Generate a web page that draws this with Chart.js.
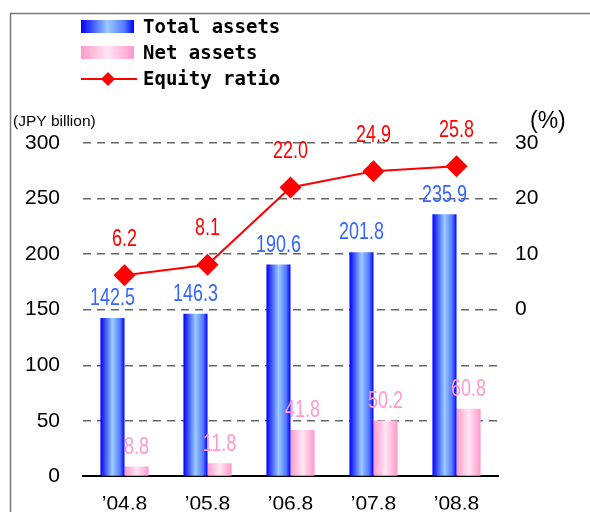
<!DOCTYPE html>
<html>
<head>
<meta charset="utf-8">
<script src="https://cdn.jsdelivr.net/npm/chart.js@4.4.1/dist/chart.umd.min.js"></script>
<style>
  html, body { margin: 0; padding: 0; background: #fff; }
  #wrap { width: 590px; height: 512px; }
</style>
</head>
<body>
<div id="wrap"><canvas id="chart" width="590" height="512"></canvas></div>
<script>
// ─── Data ──────────────────────────────────────────────────────────────────────
const periods     = ["’04.8", "’05.8", "’06.8", "’07.8", "’08.8"];
const totalAssets = [142.5, 146.3, 190.6, 201.8, 235.9];
const netAssets   = [8.8, 11.8, 41.8, 50.2, 60.8];
const equityRatio = [6.2, 8.1, 22.0, 24.9, 25.8];
const leftTicks   = [0, 50, 100, 150, 200, 250, 300];
const rightTicks  = [0, 10, 20, 30];

// ─── Styles ────────────────────────────────────────────────────────────────────
const TICK_FONT = '"Liberation Sans", Arial, sans-serif';
const blueStops = [[0, "#0000ff"], [0.5, "#99ccff"], [0.82, "#5577ff"], [1, "#0000ff"]];
const pinkStops = [[0, "#ff99cc"], [0.5, "#ffe6f2"], [1, "#ff99cc"]];

function hGradient(ctx, left, right, stops) {
  const g = ctx.createLinearGradient(left, 0, right, 0);
  stops.forEach(([o, c]) => g.addColorStop(o, c));
  return g;
}

// narrow text: squeeze horizontally around the anchor point
function narrowText(ctx, text, x, y, squeeze) {
  ctx.save();
  ctx.translate(x, y);
  ctx.scale(squeeze, 1);
  ctx.fillText(text, 0, 0);
  ctx.restore();
}

// paint each bar with its own left-to-right gradient
const barShade = {
  id: "barShade",
  beforeDatasetsDraw(chart) {
    const ctx = chart.ctx;
    chart.data.datasets.forEach((ds, i) => {
      if (!ds.stops) return;
      chart.getDatasetMeta(i).data.forEach(el => {
        const l = el.x - el.width / 2, r = el.x + el.width / 2;
        el.options = Object.assign({}, el.options, { backgroundColor: hGradient(ctx, l, r, ds.stops) });
      });
    });
  }
};

const valueLabels = {
  id: "valueLabels",
  afterDatasetsDraw(chart) {
    const ctx = chart.ctx;
    ctx.save();
    ctx.textAlign = "center";
    ctx.textBaseline = "middle";
    ctx.font = "23px " + TICK_FONT;
    chart.data.datasets.forEach((ds, i) => {
      const lift = ds.type === "line" ? 36 : 19;
      ctx.fillStyle = ds.labelColor;
      chart.getDatasetMeta(i).data.forEach((el, j) => {
        narrowText(ctx, ds.data[j].toFixed(1), el.x, el.y - lift, 0.78);
      });
    });
    ctx.restore();
  }
};

const frameAndLegend = {
  id: "frameAndLegend",
  beforeDraw(chart) {
    const ctx = chart.ctx;
    ctx.save();
    ctx.strokeStyle = "#7a7a7a";
    ctx.lineWidth = 1.5;
    ctx.strokeRect(10.5, 13.5, 700, 700);
    ctx.restore();
  },
  afterDraw(chart) {
    const ctx = chart.ctx;
    ctx.save();
    const rows = [27, 53, 79];
    chart.data.datasets.forEach((ds, i) => {
      const y = rows[i];
      if (ds.stops) {
        ctx.fillStyle = hGradient(ctx, 81, 134, ds.stops);
        ctx.fillRect(81, y - 7, 53, 13);
      } else {
        ctx.strokeStyle = ds.borderColor;
        ctx.lineWidth = 2;
        ctx.beginPath(); ctx.moveTo(81, y); ctx.lineTo(137, y); ctx.stroke();
        ctx.fillStyle = ds.pointBackgroundColor;
        ctx.beginPath();
        ctx.moveTo(108, y - 7); ctx.lineTo(115, y); ctx.lineTo(108, y + 7); ctx.lineTo(101, y);
        ctx.closePath(); ctx.fill();
      }
      ctx.fillStyle = "#000";
      ctx.font = 'bold 19px "DejaVu Sans Mono", monospace';
      ctx.textBaseline = "middle";
      ctx.fillText(ds.label, 143, y + 1);
    });
    ctx.font = "15.5px " + TICK_FONT;
    ctx.fillText("(JPY billion)", 13, 122);
    ctx.font = "23px " + TICK_FONT;
    ctx.fillText("(%)", 530, 122);
    ctx.restore();
  }
};

new Chart(document.getElementById("chart"), {
  data: {
    labels: periods,
    datasets: [
      { type: "bar", label: "Total assets", data: totalAssets, stops: blueStops,
        backgroundColor: "#6699ff", labelColor: "#3366ff", yAxisID: "y", order: 1,
        categoryPercentage: 0.58, barPercentage: 1 },
      { type: "bar", label: "Net assets", data: netAssets, stops: pinkStops,
        backgroundColor: "#ffc0dd", labelColor: "#ff99cc", yAxisID: "y", order: 1,
        categoryPercentage: 0.58, barPercentage: 1 },
      { type: "line", label: "Equity ratio", data: equityRatio, yAxisID: "y1", order: 0,
        borderColor: "#ff0000", borderWidth: 2, labelColor: "#ff0000",
        pointStyle: "rectRot", pointRadius: 11, pointBackgroundColor: "#ff0000",
        pointBorderWidth: 0, tension: 0 }
    ]
  },
  options: {
    responsive: false,
    animation: false,
    layout: { padding: { top: 143, left: 0, right: 0, bottom: 0 } },
    plugins: { legend: { display: false }, tooltip: { enabled: false } },
    scales: {
      x: {
        grid: { display: false },
        border: { display: true, color: "#000", width: 2 },
        ticks: { color: "#000", font: { family: TICK_FONT, size: 21 }, padding: 7 },
        afterFit: s => { s.height = 33; }
      },
      y: {
        position: "left", min: 0, max: 300,
        afterBuildTicks: s => { s.ticks = leftTicks.map(v => ({ value: v })); },
        grid: { color: c => c.tick.value === 0 ? "rgba(0,0,0,0)" : "#666", lineWidth: 1.5, drawTicks: false },
        border: { display: false, dash: [8, 6] },
        ticks: { color: "#000", font: { family: TICK_FONT, size: 21 }, padding: 23 },
        afterFit: s => { s.width = 83; }
      },
      y1: {
        position: "right", min: -30, max: 30,
        afterBuildTicks: s => { s.ticks = rightTicks.map(v => ({ value: v })); },
        grid: { display: false, drawTicks: false },
        border: { display: false },
        ticks: { color: "#000", font: { family: TICK_FONT, size: 21 }, padding: 17 },
        afterFit: s => { s.width = 92; }
      }
    }
  },
  plugins: [barShade, valueLabels, frameAndLegend]
});
</script>
</body>
</html>
